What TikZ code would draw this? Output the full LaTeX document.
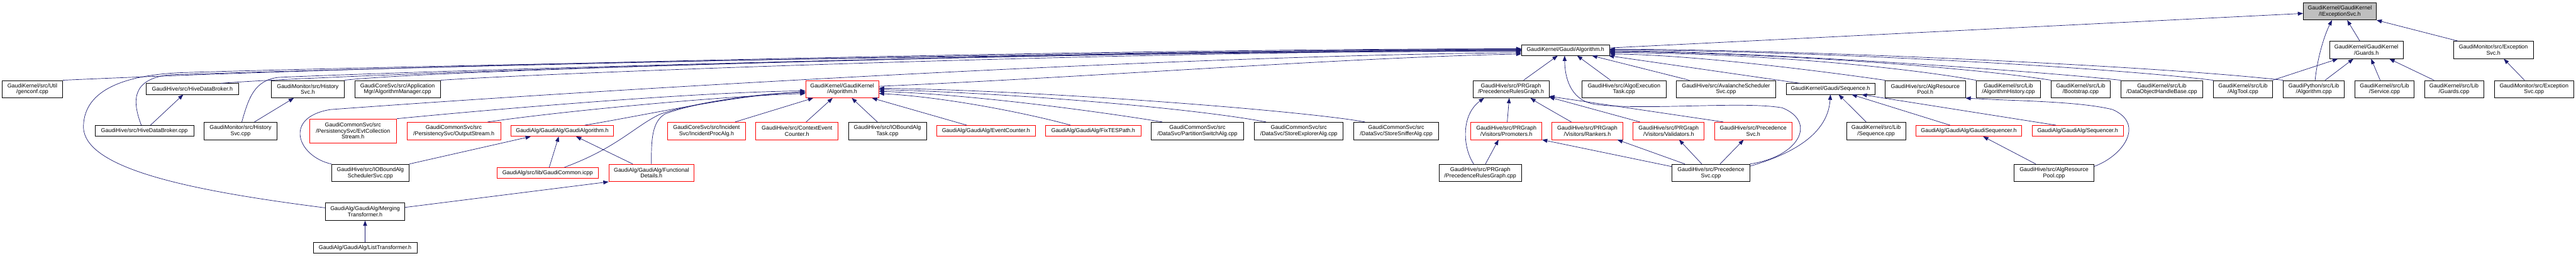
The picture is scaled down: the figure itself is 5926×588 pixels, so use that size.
\documentclass[tikz,border=0pt]{standalone}
\usepackage{fontspec}
\setmainfont{Liberation Sans}
\usetikzlibrary{arrows.meta}
\definecolor{edgecol}{HTML}{191970}
\definecolor{rootfill}{HTML}{BFBFBF}
\newcommand{\dxfont}{\fontsize{12.9bp}{14bp}\selectfont}
\begin{document}
\begin{tikzpicture}[x=1bp,y=-1bp,
  dbox/.style={line width=1bp, fill=white, inner sep=0pt, align=center, font=\dxfont},
  nd/.style={dbox, draw=black},
  rd/.style={dbox, draw=red},
  rt/.style={dbox, draw=black, fill=rootfill},
  lone/.style={minimum height=25bp},
  ltwo/.style={minimum height=40bp},
  lthree/.style={minimum height=55bp},
  wd/.style={minimum width=#1bp},
  ed/.style={draw=edgecol, line width=1bp, -{Triangle[length=12bp,width=9bp]}}]
\useasboundingbox (0,0) rectangle (5926,588);

% ---- root and level 1
\node[rt, ltwo, wd=168.1] (root) at (5382.6,25.9) {GaudiKernel/GaudiKernel\\/IExceptionSvc.h};
\node[nd, lone, wd=202] (galg) at (3601.3,115.2) {GaudiKernel/Gaudi/Algorithm.h};
\node[nd, ltwo, wd=168.5] (guardsh) at (5443.7,115) {GaudiKernel/GaudiKernel\\/Guards.h};
\node[nd, ltwo, wd=183.1] (excsvch) at (5735.9,115) {GaudiMonitor/src/Exception\\Svc.h};

% ---- level 2
\node[nd, ltwo, wd=139.7] (genconf) at (74.4,205) {GaudiKernel/src/Util\\/genconf.cpp};
\node[nd, lone, wd=214] (hdbh) at (442.5,204.6) {GaudiHive/src/HiveDataBroker.h};
\node[nd, ltwo, wd=167.3] (histh) at (708,205) {GaudiMonitor/src/History\\Svc.h};
\node[nd, ltwo, wd=197.4] (algmgr) at (914.5,205) {GaudiCoreSvc/src/Application\\Mgr/AlgorithmManager.cpp};
\node[rd, ltwo, wd=168] (kalgh) at (1937.4,205) {GaudiKernel/GaudiKernel\\/Algorithm.h};
\node[nd, ltwo, wd=174.8] (prgh) at (3475.9,205) {GaudiHive/src/PRGraph\\/PrecedenceRulesGraph.h};
\node[nd, ltwo, wd=193.6] (algoexec) at (3735.9,205) {GaudiHive/src/AlgoExecution\\Task.cpp};
\node[nd, ltwo, wd=228] (avalanche) at (3970.5,205) {GaudiHive/src/AvalancheScheduler\\Svc.cpp};
\node[nd, lone, wd=204.3] (seqh) at (4210.8,204.6) {GaudiKernel/Gaudi/Sequence.h};
\node[nd, ltwo, wd=184.1] (arph) at (4429,205) {GaudiHive/src/AlgResource\\Pool.h};
\node[nd, ltwo, wd=148.4] (alghist) at (4620.2,205) {GaudiKernel/src/Lib\\/AlgorithmHistory.cpp};
\node[nd, ltwo, wd=135] (bootstrap) at (4786.5,205) {GaudiKernel/src/Lib\\/Bootstrap.cpp};
\node[nd, ltwo, wd=187.9] (dohb) at (4973.1,205) {GaudiKernel/src/Lib\\/DataObjectHandleBase.cpp};
\node[nd, ltwo, wd=135.8] (algtool) at (5159.9,205) {GaudiKernel/src/Lib\\/AlgTool.cpp};
\node[nd, ltwo, wd=140.2] (gpyalg) at (5322.8,205) {GaudiPython/src/Lib\\/Algorithm.cpp};
\node[nd, ltwo, wd=136.4] (service) at (5485.4,205) {GaudiKernel/src/Lib\\/Service.cpp};
\node[nd, ltwo, wd=136.4] (guardscpp) at (5645.3,205) {GaudiKernel/src/Lib\\/Guards.cpp};
\node[nd, ltwo, wd=183.1] (excsvccpp) at (5829.4,205) {GaudiMonitor/src/Exception\\Svc.cpp};

% ---- level 3
\node[nd, lone, wd=227.3] (hdbcpp) at (332.1,301) {GaudiHive/src/HiveDataBroker.cpp};
\node[nd, ltwo, wd=166.8] (histcpp) at (553.3,301) {GaudiMonitor/src/History\\Svc.cpp};
\node[rd, lthree, wd=200.5] (evtcoll) at (812,301) {GaudiCommonSvc/src\\/PersistencySvc/EvtCollection\\Stream.h};
\node[rd, ltwo, wd=215.1] (outstream) at (1043.9,301) {GaudiCommonSvc/src\\/PersistencySvc/OutputStream.h};
\node[rd, lone, wd=235.6] (gaudialgh) at (1293.3,301) {GaudiAlg/GaudiAlg/GaudiAlgorithm.h};
\node[rd, ltwo, wd=178.7] (incident) at (1625.3,301) {GaudiCoreSvc/src/Incident\\Svc/IncidentProcAlg.h};
\node[rd, ltwo, wd=189.3] (ctxevt) at (1833.4,301) {GaudiHive/src/ContextEvent\\Counter.h};
\node[nd, ltwo, wd=179.1] (ioboundtask) at (2041.4,301) {GaudiHive/src/IOBoundAlg\\Task.cpp};
\node[rd, lone, wd=226.8] (evtcounter) at (2268,301) {GaudiAlg/GaudiAlg/EventCounter.h};
\node[rd, lone, wd=219.2] (fixtes) at (2514.8,301) {GaudiAlg/GaudiAlg/FixTESPath.h};
\node[nd, ltwo, wd=213.5] (partition) at (2754.6,301) {GaudiCommonSvc/src\\/DataSvc/PartitionSwitchAlg.cpp};
\node[nd, ltwo, wd=204.2] (storeexpl) at (2987.9,301) {GaudiCommonSvc/src\\/DataSvc/StoreExplorerAlg.cpp};
\node[nd, ltwo, wd=194.8] (storesniff) at (3211.9,301) {GaudiCommonSvc/src\\/DataSvc/StoreSnifferAlg.cpp};
\node[rd, ltwo, wd=163.4] (promoters) at (3465.3,301) {GaudiHive/src/PRGraph\\/Visitors/Promoters.h};
\node[rd, ltwo, wd=163] (rankers) at (3651.7,301) {GaudiHive/src/PRGraph\\/Visitors/Rankers.h};
\node[rd, ltwo, wd=163.4] (validators) at (3838.7,301) {GaudiHive/src/PRGraph\\/Visitors/Validators.h};
\node[rd, ltwo, wd=179.1] (precsvch) at (4033.2,301) {GaudiHive/src/Precedence\\Svc.h};
\node[nd, ltwo, wd=135.8] (seqcpp) at (4315.8,301) {GaudiKernel/src/Lib\\/Sequence.cpp};
\node[rd, lone, wd=243.4] (gaudiseq) at (4529.1,301) {GaudiAlg/GaudiAlg/GaudiSequencer.h};
\node[rd, lone, wd=209.6] (sequencer) at (4779.7,301) {GaudiAlg/GaudiAlg/Sequencer.h};

% ---- level 4
\node[nd, ltwo, wd=178.7] (ioboundsched) at (852,397.7) {GaudiHive/src/IOBoundAlg\\SchedulerSvc.cpp};
\node[rd, lone, wd=233.4] (gaudicommon) at (1259.6,397.7) {GaudiAlg/src/lib/GaudiCommon.icpp};
\node[rd, ltwo, wd=196.3] (functional) at (1498.6,397.7) {GaudiAlg/GaudiAlg/Functional\\Details.h};
\node[nd, ltwo, wd=189.4] (prgcpp) at (3405.2,397.7) {GaudiHive/src/PRGraph\\/PrecedenceRulesGraph.cpp};
\node[nd, ltwo, wd=178.7] (precsvccpp) at (3935.9,397.7) {GaudiHive/src/Precedence\\Svc.cpp};
\node[nd, ltwo, wd=184] (arpcpp) at (4725.2,397.7) {GaudiHive/src/AlgResource\\Pool.cpp};

% ---- levels 5 and 6
\node[nd, ltwo, wd=182.9] (merging) at (839.9,487) {GaudiAlg/GaudiAlg/Merging\\Transformer.h};
\node[nd, lone, wd=238.8] (listtr) at (839.9,569.6) {GaudiAlg/GaudiAlg/ListTransformer.h};

% ================= edges
% into root and its neighbours
\draw[ed] ([yshift=5bp]galg.east) -- ([yshift=-5bp]root.west);
\draw[ed] ([xshift=-15bp]guardsh.north) -- ([xshift=17bp]root.south);
\draw[ed] ([xshift=11bp]excsvch.north west) -- (root.south east);
\draw[ed] ([xshift=3bp]gpyalg.north) .. controls (5330,140) and (5345,85) .. ([xshift=-18bp]root.south);
\draw[ed] ([xshift=26bp]gpyalg.north) -- ([xshift=-30bp]guardsh.south);
\draw[ed] (algtool.north east) -- ([xshift=19bp]guardsh.south west);
\draw[ed] ([xshift=-10bp]service.north) -- ([xshift=11bp]guardsh.south);
\draw[ed] ([xshift=-46bp]guardscpp.north) -- ([xshift=53bp]guardsh.south);
\draw[ed] ([xshift=-22bp]excsvccpp.north) -- ([xshift=24bp]excsvch.south);

% into Gaudi/Algorithm.h from the left
\draw[ed] (genconf.north east) .. controls (900,150) and (2600,112) .. ([yshift=3bp]galg.west);
\draw[ed] ([xshift=-42bp]hdbh.north east) .. controls (800,168) and (2600,113) .. ([yshift=2bp]galg.west);
\draw[ed] ([xshift=-7bp]hdbcpp.north) .. controls (305,235) and (300,182) .. (390,172) .. controls (900,155) and (2600,114) .. ([yshift=1bp]galg.west);
\draw[ed] ([xshift=3bp]histcpp.north) .. controls (572,225) and (585,185) .. (640,178) .. controls (1000,162) and (2600,115) .. (galg.west);
\draw[ed] (histh.north east) .. controls (1000,160) and (2600,116) .. ([yshift=-1bp]galg.west);
\draw[ed] (algmgr.north east) .. controls (1250,168) and (2600,117) .. ([yshift=-2bp]galg.west);
\draw[ed] ([yshift=9bp]merging.west) .. controls (450,440) and (190,390) .. (192,290) .. controls (194,205) and (290,172) .. (420,167) .. controls (900,152) and (2600,118) .. ([yshift=-3bp]galg.west);
\draw[ed] (ioboundsched.north west) .. controls (685,360) and (650,270) .. (760,252) .. controls (1400,205) and (2700,128) .. ([yshift=-6bp]galg.west);
\draw[ed] ([yshift=-14bp]kalgh.north east) .. controls (2500,178) and (3100,132) .. ([yshift=-9bp]galg.west);

% into GaudiKernel/Algorithm.h
\draw[ed] (evtcoll.north east) .. controls (1150,250) and (1600,212) .. ([yshift=-4bp]kalgh.west);
\draw[ed] ([xshift=-30bp]outstream.north east) .. controls (1300,255) and (1650,222) .. ([yshift=-10bp]kalgh.west);
\draw[ed] ([xshift=52bp]gaudialgh.north) .. controls (1500,262) and (1700,217) .. ([yshift=-7bp]kalgh.west);
\draw[ed] ([xshift=39bp]gaudicommon.north) .. controls (1420,340) and (1460,290) .. (1520,262) .. controls (1600,235) and (1750,215) .. ([yshift=-7bp]kalgh.west);
\draw[ed] (functional.north) .. controls (1498,320) and (1500,280) .. (1530,262) .. controls (1600,235) and (1750,215) .. ([yshift=-7bp]kalgh.west);
\draw[ed] ([xshift=-24bp]incident.north east) -- ([xshift=18bp]kalgh.south west);
\draw[ed] ([xshift=21bp]ctxevt.north) -- ([xshift=-22bp]kalgh.south);
\draw[ed] ([xshift=-23bp]ioboundtask.north) -- ([xshift=22bp]kalgh.south);
\draw[ed] ([xshift=-44bp]evtcounter.north) -- ([xshift=-16bp]kalgh.south east);
\draw[ed] ([xshift=-52bp]fixtes.north) .. controls (2400,270) and (2200,225) .. ([yshift=-10bp]kalgh.east);
\draw[ed] ([xshift=-81bp]partition.north) .. controls (2550,260) and (2250,218) .. ([yshift=-5bp]kalgh.east);
\draw[ed] ([xshift=27bp]storeexpl.north west) .. controls (2750,250) and (2350,215) .. ([yshift=-1bp]kalgh.east);
\draw[ed] ([xshift=26bp]storesniff.north west) .. controls (3000,255) and (2400,208) .. ([yshift=2bp]kalgh.east);

% into Gaudi/Algorithm.h from below and right
\draw[ed] ([xshift=29bp]prgh.north) -- ([xshift=-18bp]galg.south);
\draw[ed] (precsvccpp.north east) .. controls (4140,360) and (4180,280) .. (4100,248) .. controls (4010,232) and (3780,255) .. (3670,240) .. controls (3620,233) and (3600,190) .. ([xshift=-2bp]galg.south);
\draw[ed] ([xshift=-31bp]algoexec.north) -- ([xshift=27bp]galg.south);
\draw[ed] ([xshift=-84bp]avalanche.north) -- ([xshift=61bp]galg.south);
\draw[ed] ([xshift=33bp]seqh.north west) -- ([xshift=-2bp]galg.south east);
\draw[ed] (arph.north west) .. controls (4200,165) and (3900,126) .. ([yshift=-9bp]galg.east);
\draw[ed] (alghist.north west) .. controls (4350,150) and (4000,121) .. ([yshift=-6bp]galg.east);
\draw[ed] (bootstrap.north west) .. controls (4500,150) and (4000,119) .. ([yshift=-4bp]galg.east);
\draw[ed] (dohb.north west) .. controls (4650,160) and (4000,117) .. ([yshift=-2bp]galg.east);
\draw[ed] (algtool.north west) .. controls (4800,150) and (4100,115) .. (galg.east);
\draw[ed] (gpyalg.north west) .. controls (4950,150) and (4100,113) .. ([yshift=2bp]galg.east);

% PRGraph
\draw[ed] ([xshift=2bp]promoters.north) -- ([xshift=-4bp]prgh.south);
\draw[ed] ([xshift=-15bp]prgcpp.north) .. controls (3365,340) and (3360,265) .. ([xshift=26bp]prgh.south west);
\draw[ed] ([xshift=-37bp]rankers.north) .. controls (3570,255) and (3535,235) .. ([xshift=-43bp]prgh.south east);
\draw[ed] ([xshift=16bp]validators.north west) -- ([yshift=2bp]prgh.south east);
\draw[ed] ([xshift=21bp]precsvch.north west) -- ([yshift=4bp]prgh.south east);
\draw[ed] ([xshift=12bp]prgcpp.north) -- ([xshift=-18bp]promoters.south);
\draw[ed] ([yshift=-6bp]precsvccpp.north west) -- (promoters.south east);
\draw[ed] ([xshift=30bp]precsvccpp.north west) -- ([xshift=-13bp]rankers.south east);
\draw[ed] ([xshift=-21bp]precsvccpp.north) -- ([xshift=24bp]validators.south);
\draw[ed] ([xshift=21bp]precsvccpp.north) -- ([xshift=-22bp]precsvch.south);
\draw[ed] ([yshift=-5bp]precsvccpp.north east) .. controls (4120,355) and (4205,310) .. (seqh.south);

% Sequence.h and AlgResourcePool
\draw[ed] ([xshift=-23bp]seqcpp.north) -- ([xshift=19bp]seqh.south);
\draw[ed] ([xshift=-43bp]gaudiseq.north) -- ([xshift=49bp]seqh.south);
\draw[ed] ([xshift=-50bp]sequencer.north) -- ([xshift=72bp]seqh.south);
\draw[ed] ([xshift=-42bp]arpcpp.north) -- ([xshift=33bp]gaudiseq.south);
\draw[ed] ([yshift=15bp]arpcpp.east) .. controls (4885,358) and (4935,285) .. (4860,252) .. controls (4780,232) and (4620,232) .. (arph.south east);

% left part
\draw[ed] ([xshift=14bp]hdbcpp.north) -- ([xshift=-21bp]hdbh.south);
\draw[ed] ([xshift=32bp]histcpp.north) -- ([xshift=-32bp]histh.south);
\draw[ed] (listtr.north) -- (merging.south);
\draw[ed] ([yshift=10bp]merging.east) -- (functional.south west);
\draw[ed] (ioboundsched.north east) -- ([xshift=46bp]gaudialgh.south west);
\draw[ed] ([xshift=4bp]gaudicommon.north) -- ([xshift=-8bp]gaudialgh.south);
\draw[ed] ([xshift=-43bp]functional.north) -- ([xshift=32bp]gaudialgh.south);
\end{tikzpicture}
\end{document}
